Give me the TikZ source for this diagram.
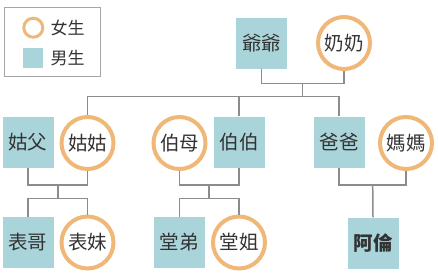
\documentclass[tikz,border=0pt]{standalone}
\usepackage{fontspec}
\setmainfont{Noto Sans CJK TC}
\newfontfamily\cjkb[FakeBold=0]{Noto Sans CJK TC Bold}
\definecolor{boxfill}{HTML}{A9D4D9}
\definecolor{ring}{HTML}{F0B878}
\definecolor{linec}{HTML}{8C8C8C}
\definecolor{txt}{HTML}{333333}
\begin{document}
\begin{tikzpicture}[x=1pt,y=-1pt,
  male/.style={fill=boxfill,minimum size=51pt,inner sep=0pt,text=txt,font=\fontsize{19.5}{20}\selectfont},
  female/.style={circle,draw=ring,fill=white,line width=4pt,minimum size=52pt,inner sep=0pt,text=txt,font=\fontsize{19.5}{20}\selectfont},
  conn/.style={draw=linec,line width=1.5pt}]
\useasboundingbox (0,0) rectangle (438,274);
% legend
\node[draw=black!35,line width=0.8pt,minimum width=96.7pt,minimum height=68.6pt,inner sep=0pt] (legend) at (52.35,42) {};
\node[circle,draw=ring,line width=3pt,minimum size=19pt,inner sep=0pt] (lgf) at (33.3,27.7) {};
\node[fill=boxfill,minimum size=20pt,inner sep=0pt] (lgm) at (33.3,57.7) {};
\node[text=txt,font=\fontsize{17}{18}\selectfont,anchor=west,inner sep=0pt] (lgft) at (50.5,27.7) {女生};
\node[text=txt,font=\fontsize{17}{18}\selectfont,anchor=west,inner sep=0pt] (lgmt) at (50.5,58) {男生};
% row 1
\node[male] (ye) at (261.5,43) {爺爺};
\node[female] (nai) at (344,43) {奶奶};
% row 2
\node[male] (gufu) at (28,142) {姑父};
\node[female] (gugu) at (87.5,143) {姑姑};
\node[female] (bomu) at (179.5,143) {伯母};
\node[male] (bobo) at (239,142) {伯伯};
\node[male] (baba) at (339,142) {爸爸};
\node[female] (mama) at (406,143) {媽媽};
% row 3
\node[male] (biaoge) at (28,242.5) {表哥};
\node[female] (biaomei) at (87.5,242.5) {表妹};
\node[male] (tangdi) at (179.3,242.5) {堂弟};
\node[female] (tangjie) at (239,242.5) {堂姐};
\node[male,font=\fontsize{19.5}{20}\selectfont\bfseries] (alun) at (373,243) {阿倫};
% coordinates
\coordinate (m1) at (302.5,83.5);
\coordinate (b1) at (302.5,96.5);
\coordinate (m2) at (58,185);
\coordinate (b2) at (58,198.5);
\coordinate (m3) at (209.2,185);
\coordinate (b3) at (209.2,198.5);
\coordinate (m4) at (372.7,185);
% connectors
\begin{scope}[on background layer/.style={}]
\draw[conn] (ye.south) |- (m1) -| (nai.south);
\draw[conn] (m1) -- (b1);
\draw[conn] (gugu.north) |- (b1) -| (baba.north);
\draw[conn] (bobo.north) -- (bobo.north |- b1);
\draw[conn] (gufu.south) |- (m2) -| (gugu.south);
\draw[conn] (m2) -- (b2);
\draw[conn] (biaoge.north) |- (b2) -| (biaomei.north);
\draw[conn] (bomu.south) |- (m3) -| (bobo.south);
\draw[conn] (m3) -- (b3);
\draw[conn] (tangdi.north) |- (b3) -| (tangjie.north);
\draw[conn] (baba.south) |- (m4) -| (mama.south);
\draw[conn] (m4) -- (alun.north);
\end{scope}
\end{tikzpicture}
\end{document}
